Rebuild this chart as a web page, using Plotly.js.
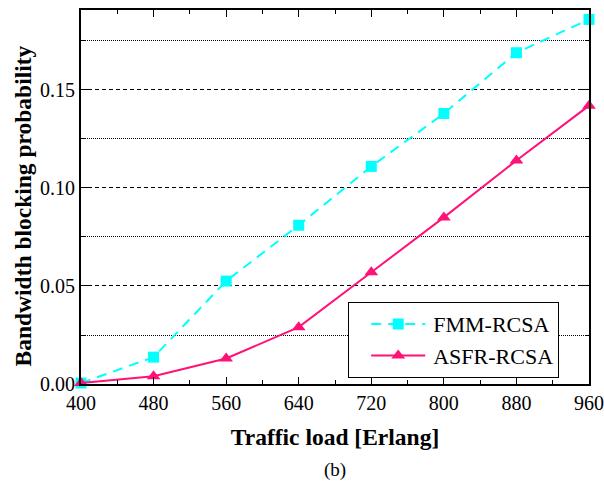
<!DOCTYPE html>
<html><head><meta charset="utf-8">
<script src="https://cdn.plot.ly/plotly-3.0.1.min.js"></script>
<style>html,body{margin:0;padding:0;background:#fff;}</style>
</head><body>
<div id="chart" style="width:604px;height:489px;"></div>
<script>
const loads = [400, 480, 560, 640, 720, 800, 880, 960];
const fmm = [0.0005, 0.0137, 0.0525, 0.081, 0.111, 0.138, 0.169, 0.186];
const asfr = [0.0005, 0.004, 0.013, 0.029, 0.057, 0.085, 0.114, 0.142];
const xTicks = [400, 480, 560, 640, 720, 800, 880, 960];
const yTicks = [0.00, 0.05, 0.10, 0.15];
const yTickText = ['0.00', '0.05', '0.10', '0.15'];

const font = '"Liberation Serif", "Times New Roman", serif';
const traces = [
  {x: loads, y: fmm, name: 'FMM-RCSA', mode: 'lines+markers', cliponaxis: false,
   line: {color: '#00FFFF', width: 2, dash: '10px,7px'},
   marker: {symbol: 'square', size: 11, color: '#00FFFF'}},
  {x: loads, y: asfr, name: 'ASFR-RCSA', mode: 'lines+markers', cliponaxis: false,
   line: {color: '#FF1177', width: 2},
   marker: {symbol: 'triangle-up', size: 12, color: '#FF1177'}}
];
const layout = {
  width: 604, height: 489,
  margin: {l: 81, r: 15, t: 10, b: 105},
  paper_bgcolor: '#fff', plot_bgcolor: '#fff',
  font: {family: font, color: '#000', size: 20},
  showlegend: true,
  legend: {x: 0.526, y: 0.219, xanchor: 'left', yanchor: 'top',
    bordercolor: '#000', borderwidth: 1, bgcolor: '#fff',
    font: {family: font, size: 22}, tracegroupgap: 0, itemwidth: 74},
  xaxis: {range: [400, 960], tickvals: xTicks, ticktext: xTicks.map(String),
    ticks: 'inside', ticklen: 7, tickwidth: 1, tickcolor: '#000',
    tickfont: {family: font, size: 20},
    showline: true, linecolor: '#000', linewidth: 2, mirror: 'ticks',
    showgrid: false, zeroline: false,
    minor: {dtick: 40, tick0: 400, ticks: 'inside', ticklen: 4, tickcolor: '#000', showgrid: false},
    title: {text: '<b>Traffic load [Erlang]</b>', font: {family: font, size: 23.5}, standoff: 16}},
  yaxis: {range: [0, 0.1908], tickvals: yTicks, ticktext: yTickText,
    ticks: 'inside', ticklen: 7, tickwidth: 1, tickcolor: '#000',
    tickfont: {family: font, size: 20},
    showline: true, linecolor: '#000', linewidth: 2, mirror: 'ticks',
    showgrid: true, gridcolor: '#000', gridwidth: 1, griddash: '4px,3px', zeroline: false,
    minor: {tickvals: [0.025, 0.075, 0.125, 0.175], ticks: 'inside', ticklen: 4, tickcolor: '#000',
      showgrid: true, gridcolor: '#000', gridwidth: 1, griddash: '1px,1px'}},
  annotations: [
    {text: '<b>Bandwidth blocking probability</b>', textangle: -90, xref: 'paper', yref: 'paper',
     x: (22-81)/508, y: (384-206.5)/374, xanchor: 'center', yanchor: 'middle', showarrow: false,
     font: {family: font, size: 23.5}},
    {text: '(b)', xref: 'paper', yref: 'paper', x: 0.5, y: (489-105-470)/374 , showarrow: false,
    font: {family: font, size: 19}, yanchor: 'middle'}]
};
Plotly.newPlot('chart', traces, layout, {displayModeBar: false}).then(function(gd){
  // lengthen legend sample lines and centre the markers on them, as in the reference
  gd.querySelectorAll('.legend .traces').forEach(function(tr){
    tr.querySelectorAll('.legendlines path').forEach(function(p){ p.setAttribute('d', 'M22,0h54'); });
    tr.querySelectorAll('.legendpoints path').forEach(function(p){ p.setAttribute('transform', 'translate(49,0)'); });
  });
});
</script>
</body></html>
